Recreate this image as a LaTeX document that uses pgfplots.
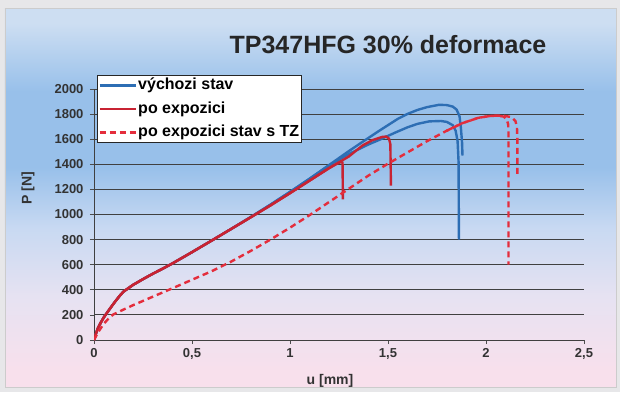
\documentclass[border=0pt]{standalone}
\usepackage{pgfplots}
\pgfplotsset{compat=1.18}
\usetikzlibrary{backgrounds}
\usepackage{fontspec}
\setmainfont{Liberation Sans}
\definecolor{bl}{RGB}{45,110,180}
\definecolor{rd}{RGB}{200,35,50}
\definecolor{rdd}{RGB}{228,45,60}
\definecolor{bgtop}{RGB}{205,222,242}
\definecolor{bgmid}{RGB}{152,192,234}
\definecolor{bgpale}{RGB}{200,217,242}
\definecolor{bglow}{RGB}{230,226,242}
\definecolor{bgbot}{RGB}{248,224,236}
\pgfdeclareverticalshading{bgsh}{100bp}{color(0bp)=(bgbot); color(27bp)=(bgbot); color(37bp)=(bglow); color(46bp)=(bgpale); color(54bp)=(bgmid); color(64bp)=(bgmid); color(73bp)=(bgtop); color(100bp)=(bgtop)}
\begin{document}
\begin{tikzpicture}
\begin{axis}[
  name=ax, at={(0pt,0pt)}, anchor=south west, scale only axis,
  width=490pt, height=251pt,
  xmin=0, xmax=2.5, ymin=0, ymax=2000,
  xtick={0,0.5,1,1.5,2,2.5}, xticklabels={0,{0,5},1,{1,5},2,{2,5}},
  ytick={0,200,400,600,800,1000,1200,1400,1600,1800,2000},
  yticklabels={0,200,400,600,800,1000,1200,1400,1600,1800,2000},
  ymajorgrids, grid style={black!75, line width=0.9pt},
  axis x line*=bottom, axis y line*=left,
  axis line style={black!75, line width=0.9pt},
  tick align=outside, major tick length=4pt,
  tick style={black!70, line width=0.8pt},
  ticklabel style={font=\fontsize{13}{13}\selectfont\bfseries, text=black!80},
  yticklabel style={xshift=-3pt},
  xticklabel style={yshift=-1pt},
  legend image code/.code={\draw[#1] (0pt,0pt) -- (36pt,0pt);},
  legend cell align=left,
  legend style={at={(0.006,1.056)}, anchor=north west, fill=white,
    draw=black!85, line width=0.8pt, inner sep=1pt, row sep=5pt,
    font=\fontsize{16}{16}\selectfont\bfseries,
    nodes={inner sep=1.5pt, text height=12pt, text depth=3.5pt}},
]
% blue: vychozi stav (two specimens)
\addplot[bl, line width=2.4pt] coordinates {
(0,0) (0.01,50) (0.02,95) (0.035,140) (0.05,180) (0.07,225) (0.1,290) (0.13,350) (0.15,385)
(0.2,440) (0.25,485) (0.3,528) (0.35,568) (0.4,610) (0.5,700) (0.6,792) (0.7,885) (0.8,980)
(0.9,1078) (1.0,1180) (1.1,1285) (1.2,1395) (1.3,1505) (1.4,1610) (1.46,1672) (1.5,1712)
(1.55,1762) (1.6,1802) (1.65,1833) (1.7,1856) (1.76,1874) (1.8,1872) (1.83,1860) (1.85,1836)
(1.865,1782) (1.872,1690) (1.878,1570) (1.88,1470)};
\addlegendentry{výchozi stav}
\addplot[bl, line width=2.4pt, forget plot] coordinates {
(0,0) (0.01,50) (0.02,95) (0.035,140) (0.05,180) (0.07,225) (0.1,290) (0.13,350) (0.15,385)
(0.2,440) (0.25,485) (0.3,528) (0.35,568) (0.4,610) (0.5,700) (0.6,792) (0.7,885) (0.8,980)
(0.9,1078) (1.0,1180) (1.1,1285) (1.2,1392) (1.3,1482) (1.4,1558) (1.46,1598) (1.54,1655)
(1.6,1695) (1.65,1722) (1.71,1742) (1.77,1745) (1.8,1738) (1.83,1712) (1.845,1668)
(1.855,1585) (1.86,1420) (1.862,800)};
% red solid: po expozici (two specimens)
\addplot[rd, line width=2.4pt] coordinates {
(0,0) (0.01,50) (0.02,95) (0.035,140) (0.05,180) (0.07,225) (0.1,290) (0.13,350) (0.15,385)
(0.2,440) (0.25,485) (0.3,528) (0.35,568) (0.4,610) (0.5,700) (0.6,792) (0.7,885) (0.8,978)
(0.9,1072) (1.0,1170) (1.1,1270) (1.2,1370) (1.24,1405) (1.26,1418) (1.268,1414) (1.27,1120)};
\addlegendentry{po expozici}
\addplot[rd, line width=2.4pt, forget plot] coordinates {
(0,0) (0.01,50) (0.02,95) (0.035,140) (0.05,180) (0.07,225) (0.1,290) (0.13,350) (0.15,385)
(0.2,440) (0.25,485) (0.3,528) (0.35,568) (0.4,610) (0.5,700) (0.6,792) (0.7,885) (0.8,978)
(0.9,1072) (1.0,1170) (1.1,1270) (1.2,1370) (1.3,1462) (1.37,1550) (1.42,1592) (1.47,1618)
(1.49,1621) (1.505,1605) (1.512,1560) (1.515,1230)};
% red dashed: po expozici stav s TZ (two specimens)
\addplot[rdd, line width=2.4pt, dash pattern=on 6pt off 4pt] coordinates {
(0,0) (0.02,60) (0.05,130) (0.08,180) (0.1,205) (0.15,242) (0.2,278) (0.3,345) (0.4,412)
(0.5,480) (0.6,548) (0.7,625) (0.8,710) (0.9,800) (1.0,895) (1.1,995) (1.2,1100) (1.3,1205)
(1.4,1310) (1.5,1405) (1.6,1495) (1.7,1585) (1.8,1668) (1.88,1728) (1.96,1770) (2.02,1785)
(2.06,1788) (2.09,1780) (2.105,1760) (2.113,1720) (2.115,1650) (2.115,600)};
\addlegendentry{po expozici stav s TZ}
\addplot[rdd, line width=2.4pt, dash pattern=on 6pt off 4pt, forget plot] coordinates {
(1.8,1668) (1.88,1728) (1.96,1770) (2.02,1785) (2.06,1788) (2.1,1785) (2.13,1775)
(2.15,1745) (2.158,1700) (2.16,1600) (2.16,1300)};
\end{axis}
\begin{scope}[shift={(ax.south west)}, xshift=-94pt, yshift=-52pt]
  \begin{scope}[on background layer]
    \fill[white!90!blue!30!gray!25] (0pt,0pt) rectangle (620pt,392pt);
    \shade[shading=bgsh, draw=gray!40] (5pt,5pt) rectangle (616pt,384pt);
  \end{scope}
  \node[font=\fontsize{25}{25}\selectfont\bfseries, text=black!85] at (388pt,347pt) {TP347HFG 30\% deformace};
  \node[rotate=90, font=\fontsize{14}{14}\selectfont\bfseries, text=black!80] at (28pt,204pt) {P [N]};
  \node[font=\fontsize{14}{14}\selectfont\bfseries, text=black!80] at (330pt,11pt) {u [mm]};
\end{scope}
\end{tikzpicture}
\end{document}
